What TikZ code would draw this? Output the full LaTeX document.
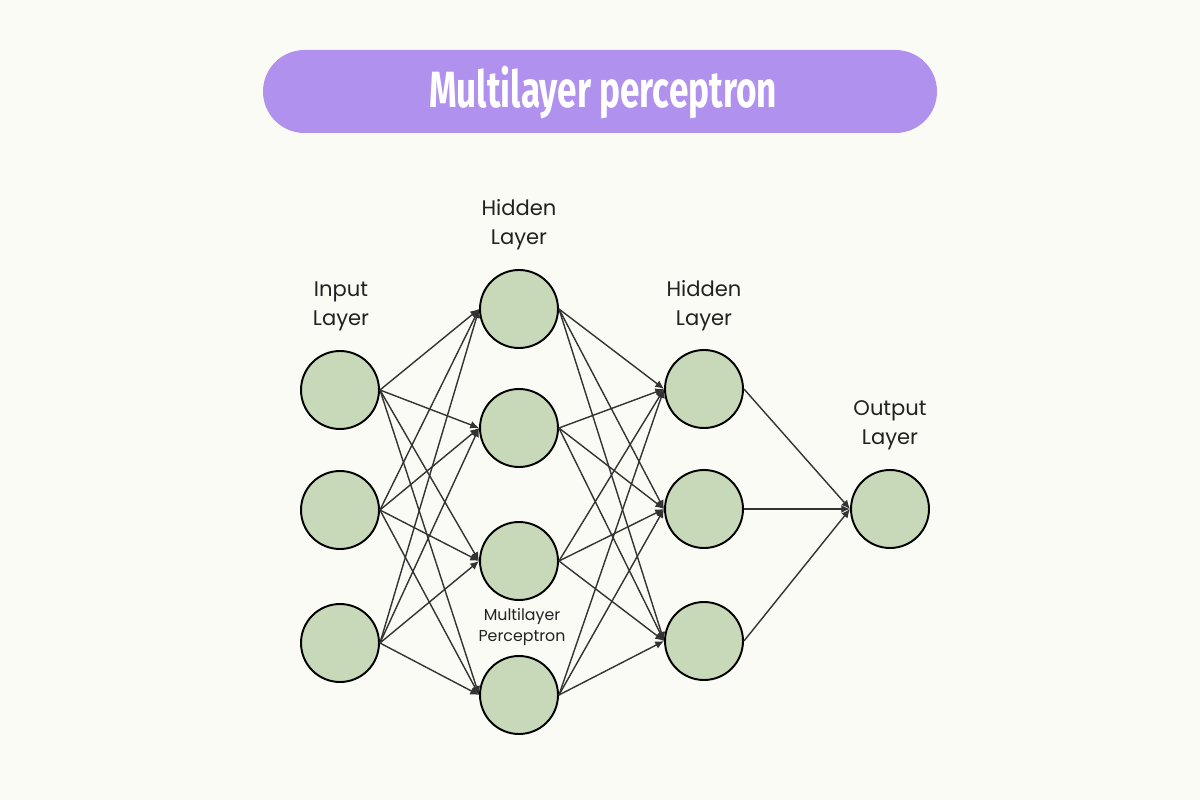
\documentclass[tikz,border=0pt]{standalone}
\usepackage{fontspec}
\setsansfont{Poppins}
\newfontfamily\titlefont[FakeStretch=0.69]{Fira Sans}
\usetikzlibrary{arrows.meta,positioning}

\definecolor{pagebg}{HTML}{FBFBF6}
\definecolor{pillpurple}{HTML}{B091EE}
\definecolor{neurongreen}{HTML}{C8D9B9}
\definecolor{edgegray}{HTML}{333333}
\definecolor{labelink}{HTML}{222222}

\tikzset{
  neuron/.style={circle,draw=black,line width=1.1pt,fill=neurongreen,
    minimum size=1.56cm,inner sep=0pt},
  weight/.style={draw=edgegray,line width=0.8pt,
    -{Latex[length=5pt,width=4.5pt]}},
  layerlabel/.style={font=\sffamily\fontsize{12}{16.5}\selectfont,
    text=labelink,align=center},
}

\begin{document}
\begin{tikzpicture}[x=0.02cm,y=-0.02cm]
  \fill[pagebg] (0,0) rectangle (1200,800);
  \useasboundingbox (0,0) rectangle (1200,800);

  % title
  \fill[pillpurple,rounded corners=0.83cm] (263,50) rectangle (937,133);
  \node[text=white,font=\titlefont\bfseries\fontsize{29}{32}\selectfont]
    (title) at (603,92) {Multilayer perceptron};

  % neurons
  \foreach \n/\y in {1/390,2/510,3/643}
    \node[neuron] (in\n) at (340,\y) {};
  \foreach \n/\y in {1/309,2/428,3/561,4/695}
    \node[neuron] (ha\n) at (519,\y) {};
  \foreach \n/\y in {1/389,2/509,3/641}
    \node[neuron] (hb\n) at (704,\y) {};
  \node[neuron] (out) at (890,509) {};

  % labels
  \node[layerlabel] (inlab) at (341,306) {Input\\Layer};
  \node[layerlabel] (halab) at (519,225) {Hidden\\Layer};
  \node[layerlabel] (hblab) at (704,306) {Hidden\\Layer};
  \node[layerlabel] (outlab) at (890,425) {Output\\Layer};
  \node[font=\sffamily\fontsize{9}{12}\selectfont,text=labelink,align=center]
    (mlplab) at (522,627) {Multilayer\\Perceptron};

  % connections
  \foreach \i in {1,2,3}
    \foreach \j in {1,2,3,4}
      \draw[weight] (in\i.east) -- (ha\j.west);
  \foreach \i in {1,2,3,4}
    \foreach \j in {1,2,3}
      \draw[weight] (ha\i.east) -- (hb\j.west);
  \foreach \i in {1,2,3}
    \draw[weight] (hb\i.east) -- (out.west);
\end{tikzpicture}
\end{document}
